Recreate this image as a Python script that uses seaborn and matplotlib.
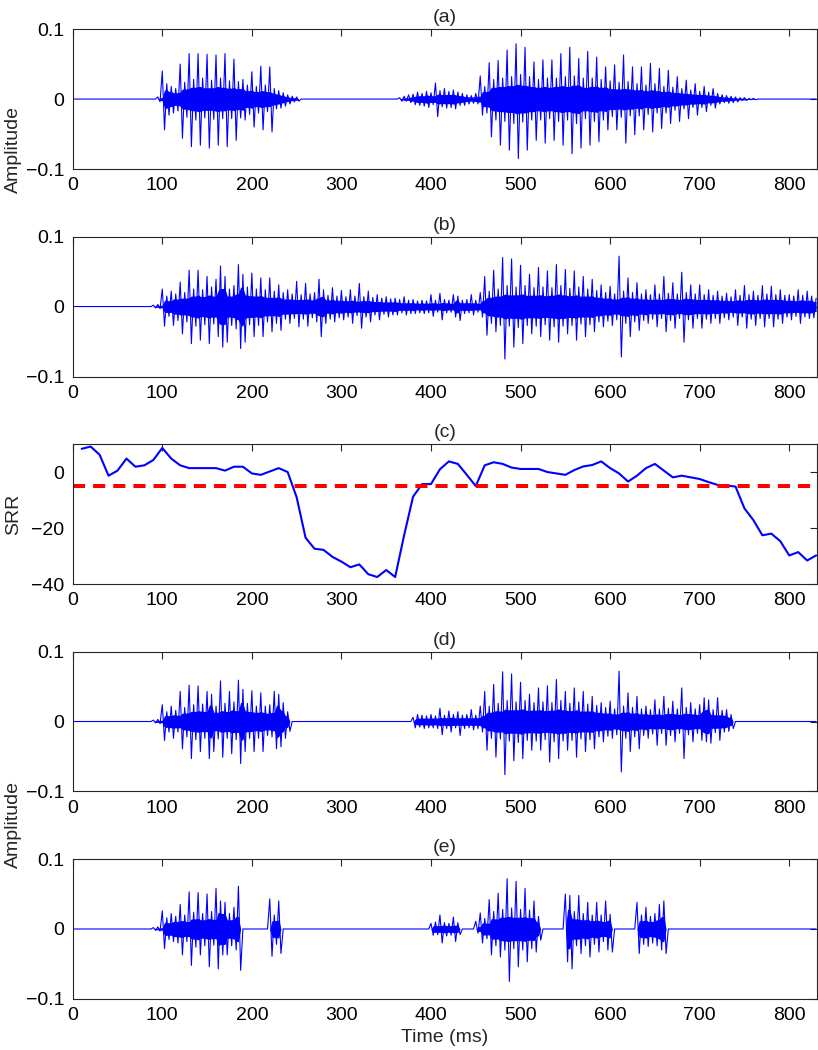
import numpy as np
import pandas as pd
import seaborn as sns
import matplotlib.pyplot as plt

STEP = 2.5        # ms entre muestras
T_END = 830
X_MAX = 831
X_TICKS = [0, 100, 200, 300, 400, 500, 600, 700, 800]
AMP_TICKS = [-0.1, 0, 0.1]
AMP_LABELS = ["\u22120.1", "0", "0.1"]
SRR_TICKS = [-40, -20, 0]
SRR_LABELS = ["\u221240", "\u221220", "0"]
THRESHOLD = -5
FS = 14
CORE = 0.6        # fracción de la banda que se pinta sólida

# --- Señales (unidades de 0.001), cada tramo empieza en el tiempo indicado (ms) ---
a_seg1_start = 95
a_seg1 = [3, -4,
          40, -44, 22, -23, 18, -20, 15, -17, 50, -56, 24, -26, 65, -68, 28, -30,
          65, -66, 30, -27, 64, -70, 27, -29, 63, -66, 30, -28, 65, -68, 26, -28,
          57, -59, 25, -27, 28, -30, 20, -22, 39, -40, 18, -20, 47, -44, 20, -18,
          46, -47, 15, -14, 12, -13, 9, -10, 6, -7, 4, -4, 3, -3]
a_seg2_start = 365
a_seg2 = [2, -3, 4, -3, 6, -5, 7, -8, 10, -9, 8, -10, 11, -12, 9, -8,
          23, -25, 12, -11, 15, -13, 11, -12, 13, -14, 10, -9, 8, -9, 6, -7,
          5, -6, 8, -7, 33, -23, 18, -20, 52, -54, 28, -30, 55, -66, 30, -32,
          70, -73, 32, -35, 79, -85, 35, -33, 74, -73, 32, -30, 53, -59, 28, -30,
          56, -63, 30, -28, 56, -59, 30, -32, 65, -66, 32, -30, 74, -78, 33, -35,
          58, -70, 30, -28, 68, -66, 30, -32, 60, -61, 28, -30, 46, -44, 26, -25,
          49, -44, 24, -26, 63, -63, 25, -24, 46, -51, 22, -24, 46, -44, 20, -22,
          51, -47, 22, -20, 44, -42, 18, -20, 41, -35, 17, -16, 32, -32, 15, -14,
          27, -28, 13, -12, 22, -23, 11, -12, 18, -18, 10, -9, 15, -13, 8, -7,
          6, -5, 5, -6, 4, -5, 3, -4, 2, -2, 2, -2, 1, -1, 1, -1]

b_seg1_start = 90
b_seg1 = [2, -2, 3, -3, 25, -28, 15, -14, 22, -27, 18, -20, 35, -39, 20, -22,
          52, -53, 25, -28, 52, -48, 24, -26, 43, -53, 28, -25, 39, -43, 58, -58,
          43, -51, 25, -27, 30, -32, 60, -60, 46, -51, 28, -26, 48, -43, 25, -27,
          41, -43, 24, -22, 41, -36, 22, -24, 31, -34, 20, -18, 24, -24, 18, -17,
          36, -29, 17, -18, 33, -28, 18, -16, 20, -22, 39, -43, 24, -24, 16, -18,
          27, -22, 15, -16, 23, -19, 14, -15, 24, -24, 15, -13, 33, -31, 14, -15,
          22, -22, 13, -12, 17, -19, 12, -11, 14, -15, 11, -12, 12, -12, 10, -9,
          14, -12, 9, -10, 10, -10, 8, -9, 9, -10, 8, -9, 17, -14, 9, -8,
          19, -19, 10, -9, 9, -8, 17, -15, 15, -20, 9, -10, 10, -9, 17, -12,
          9, -8, 20, -15, 43, -41, 22, -24, 52, -36, 25, -27, 70, -75, 30, -28,
          68, -58, 28, -30, 59, -53, 30, -27, 46, -39, 27, -28, 56, -43, 28, -26,
          51, -48, 27, -29, 60, -51, 30, -28, 53, -39, 26, -27, 51, -48, 28, -25,
          43, -43, 25, -26, 39, -36, 23, -22, 31, -29, 20, -21, 29, -27, 18, -19,
          72, -72, 22, -24, 41, -43, 20, -22, 34, -34, 18, -20, 24, -24, 17, -18,
          31, -29, 18, -17, 43, -36, 19, -20, 34, -31, 18, -17, 49, -51, 20, -19,
          31, -31, 18, -17, 31, -31, 17, -18, 24, -24, 16, -17, 22, -24, 15, -16,
          19, -19, 14, -15, 24, -27, 16, -15, 30, -31, 17, -18, 22, -27, 16, -17,
          30, -29, 18, -17, 29, -29, 17, -18, 24, -24, 16, -15, 17, -19, 15, -14,
          24, -24, 16, -15, 22, -17, 15, -16, 12]

d_seg1_start = 90
d_seg1 = [2, -2, 3, -3, 24, -27, 14, -15, 22, -24, 16, -15, 43, -39, 20, -22,
          52, -53, 24, -26, 51, -43, 25, -24, 43, -53, 39, -43, 22, -25, 58, -51,
          26, -24, 43, -46, 28, -26, 59, -60, 46, -43, 26, -24, 44, -43, 22, -24,
          41, -43, 22, -20, 24, -22, 43, -39, 39, -36, 27, -24, 14, -14]
d_seg2_start = 380
d_seg2 = [6, -9, 10, -8, 9, -10, 8, -9, 10, -9, 8, -10, 19, -19, 9, -10,
          15, -15, 10, -9, 14, -20, 9, -10, 10, -9, 17, -12, 9, -10, 22, -15,
          43, -41, 22, -24, 53, -51, 26, -25, 71, -76, 30, -28, 68, -56, 28, -30,
          56, -53, 30, -27, 39, -41, 27, -28, 48, -41, 28, -26, 51, -58, 27, -29,
          60, -53, 30, -28, 43, -41, 26, -27, 48, -51, 28, -25, 43, -43, 25, -26,
          36, -39, 23, -22, 27, -29, 20, -21, 29, -24, 18, -19, 72, -72, 22, -24,
          41, -43, 20, -22, 36, -39, 18, -20, 22, -24, 17, -18, 31, -34, 18, -17,
          36, -34, 19, -20, 29, -29, 18, -17, 48, -53, 20, -19, 27, -29, 18, -17,
          24, -27, 34, -29, 31, -31, 17, -16, 34, -27, 16, -15, 17, -14, 10, -10]

e_seg1_start = 90
e_seg1 = [2, -2, 3, -3, 26, -28, 16, -15, 22, -18, 18, -20, 35, -37, 20, -18,
          53, -52, 24, -26, 52, -37, 22, -24, 50, -54, 25, -23, 58, -57, 40, -37,
          38, -37, 22, -24, 31, -30, 61, -59]
e_seg2_start = 220
e_seg2 = [43, -39, 20, -22, 40, -35]
e_seg3_start = 400
e_seg3 = [8, -9, 10, -8, 20, -20, 9, -10, 8, -9, 17, -18, 9, -8]
e_seg4_start = 450
e_seg4 = [11, -6, 23, -20, 15, -14, 42, -37, 25, -24, 51, -40, 28, -30, 72, -75,
          30, -28, 68, -54, 28, -30, 58, -47, 27, -28, 40, -33, 18, -16]
e_seg5_start = 550
e_seg5 = [50, -47, 48, -57, 25, -24, 48, -35, 22, -24, 38, -40, 20, -22, 38, -33,
          20, -18, 40, -30, 21, -33]
e_seg6_start = 630
e_seg6 = [38, -35, 20, -22, 31, -25, 18, -20, 22, -24, 35, -30, 40, -35]

# --- SRR (dB), una trama cada 10 ms ---
srr_time = list(range(10, 840, 10))
srr_values = [8.3, 9.1, 6.2, -1.3, 0.5, 4.8, 1.9, 2.4, 4.3, 8.6,
              4.8, 2.4, 1.4, 1.4, 1.4, 1.4, 0.5, 1.9, 1.9, -0.5,
              -1.0, 0.2, 1.4, 0.0, -9.0, -23.5, -27.4, -27.8, -30.3, -32.0,
              -34.0, -33.0, -36.5, -37.5, -35.0, -37.5, -22.6, -8.8, -4.3, -4.3,
              1.0, 3.8, 2.9, -1.0, -5.0, 2.4, 3.5, 2.9, 1.6, 1.1,
              1.1, 1.1, 0.0, -0.5, -1.0, 0.7, 2.0, 2.5, 3.8, 1.4,
              -0.5, -3.4, -1.3, 1.4, 2.9, 0.5, -1.9, -1.3, -1.9, -2.5,
              -3.6, -4.6, -4.8, -5.2, -13.0, -17.2, -22.6, -22.0, -24.7, -29.8,
              -28.6, -31.6, -29.8]


def build_wave(segments):
    """Arma la señal completa a partir de los tramos (silencio = 0)."""
    t = np.arange(0, T_END + STEP / 2, STEP)
    y = np.zeros_like(t)
    for start, vals in segments:
        i0 = int(round(start / STEP))
        vals = np.array(vals[:len(t) - i0]) / 1000.0
        y[i0:i0 + len(vals)] = vals
    df = pd.DataFrame({"time": t, "amp": y})
    # núcleo denso entre picos: mínimo local de |amp| (3 muestras)
    df["band"] = CORE * df["amp"].abs().rolling(3, center=True, min_periods=1).min()
    return df


def style_axes(ax, title):
    ax.set_xlim(0, X_MAX)
    ax.set_xticks(X_TICKS)
    ax.set_xticklabels([str(v) for v in X_TICKS])
    ax.tick_params(direction="in", top=True, right=True, length=5, width=0.8,
                   labelsize=FS, pad=6, colors="#262626", labelcolor="black")
    for s in ax.spines.values():
        s.set_linewidth(0.8)
        s.set_color("#262626")
    ax.set_title(title, fontsize=FS, pad=5)
    ax.set_xlabel("")
    ax.set_ylabel("")


def plot_wave(ax, df, title):
    # relleno del núcleo para imitar el trazo denso del original
    ax.fill_between(df["time"], -df["band"], df["band"], color="#0000ff",
                    linewidth=0)
    sns.lineplot(data=df, x="time", y="amp", ax=ax, color="#0000ff",
                 linewidth=0.8, estimator=None, sort=False, legend=False)
    ax.set_ylim(-0.1, 0.1)
    ax.set_yticks(AMP_TICKS)
    ax.set_yticklabels(AMP_LABELS)
    style_axes(ax, title)


sns.set_style("white")
plt.rcParams["font.family"] = ["Liberation Sans", "DejaVu Sans"]

fig = plt.figure(figsize=(8.18, 10.5), dpi=100)
left, width, height = 0.0889, 0.9099, 0.1333
bottoms = [0.8390, 0.6414, 0.4438, 0.2462, 0.0486]
axes = [fig.add_axes([left, b, width, height]) for b in bottoms]

wave_a = build_wave([(a_seg1_start, a_seg1), (a_seg2_start, a_seg2)])
wave_b = build_wave([(b_seg1_start, b_seg1)])
wave_d = build_wave([(d_seg1_start, d_seg1), (d_seg2_start, d_seg2)])
wave_e = build_wave([(e_seg1_start, e_seg1), (e_seg2_start, e_seg2),
                     (e_seg3_start, e_seg3), (e_seg4_start, e_seg4),
                     (e_seg5_start, e_seg5), (e_seg6_start, e_seg6)])

plot_wave(axes[0], wave_a, "(a)")
plot_wave(axes[1], wave_b, "(b)")

# panel (c): SRR
ax = axes[2]
srr = pd.DataFrame({"time": srr_time, "srr": srr_values})
sns.lineplot(data=srr, x="time", y="srr", ax=ax, color="#0000ff", linewidth=1.5,
             estimator=None, legend=False)
ax.axhline(THRESHOLD, color="#ff0000", linewidth=2.9, dashes=(3.0, 2.0))
ax.set_ylim(-40, 10)
ax.set_yticks(SRR_TICKS)
ax.set_yticklabels(SRR_LABELS)
style_axes(ax, "(c)")
ax.set_ylabel("SRR", fontsize=FS)
ax.yaxis.set_label_coords(-0.068, 0.5)

plot_wave(axes[3], wave_d, "(d)")
plot_wave(axes[4], wave_e, "(e)")

axes[0].set_ylabel("Amplitude", fontsize=FS)
axes[0].yaxis.set_label_coords(-0.068, 0.143)
axes[4].set_ylabel("Amplitude", fontsize=FS)
axes[4].yaxis.set_label_coords(-0.068, 1.243)
axes[4].set_xlabel("Time (ms)", fontsize=FS)
axes[4].xaxis.set_label_coords(0.5, -0.215)

fig.savefig("out.png", dpi=100, facecolor="white")
